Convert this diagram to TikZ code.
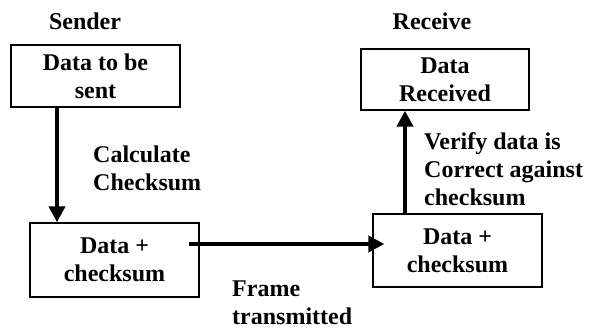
\documentclass[tikz,border=0pt]{standalone}
\usepackage{fontspec}
\setmainfont{Liberation Serif}
\usetikzlibrary{arrows.meta}

\tikzset{
  box/.style={draw, line width=1.4pt, minimum width=169pt, align=center, inner sep=0pt},
  flow/.style={line width=4.5pt, -{Triangle[width=16pt,length=16pt]}},
  note/.style={align=left, anchor=west, inner sep=0pt},
  head/.style={anchor=base, inner sep=0pt}
}

\begin{document}
\begin{tikzpicture}[x=1pt,y=-1pt,font=\fontsize{24}{28}\selectfont\bfseries]
  \useasboundingbox (0,0) rectangle (592,331);

  \node[head] (sender) at (85,30) {Sender};
  \node[head] (receive) at (432,30) {Receive};

  \node[box, minimum height=62pt] (sent) at (95.5,76) {Data to be\\sent};
  \node[box, minimum height=74pt] (framesend) at (114.5,260) {Data +\\checksum};
  \node[box, minimum height=73pt] (framerecv) at (457.5,250.5) {Data +\\checksum};
  \node[box, minimum width=168pt, minimum height=61pt] (received) at (445,79.5) {Data\\Received};

  \node[note] (calc) at (93,168) {Calculate\\Checksum};
  \node[note] (trans) at (232,303) {Frame\\transmitted};
  \node[note] (verify) at (424,169) {Verify data is\\Correct against\\checksum};

  \coordinate (a) at ([xshift=-38.5pt]sent.south);
  \draw[flow] (a) -- (a |- framesend.north);
  \coordinate (b) at ([shift={(-11pt,16pt)}]framesend.east);
  \draw[flow] (b) -- ([xshift=12pt]b -| framerecv.west);
  \coordinate (c) at ([xshift=-52.5pt]framerecv.north);
  \draw[flow] (c) -- (c |- received.south);
\end{tikzpicture}
\end{document}
